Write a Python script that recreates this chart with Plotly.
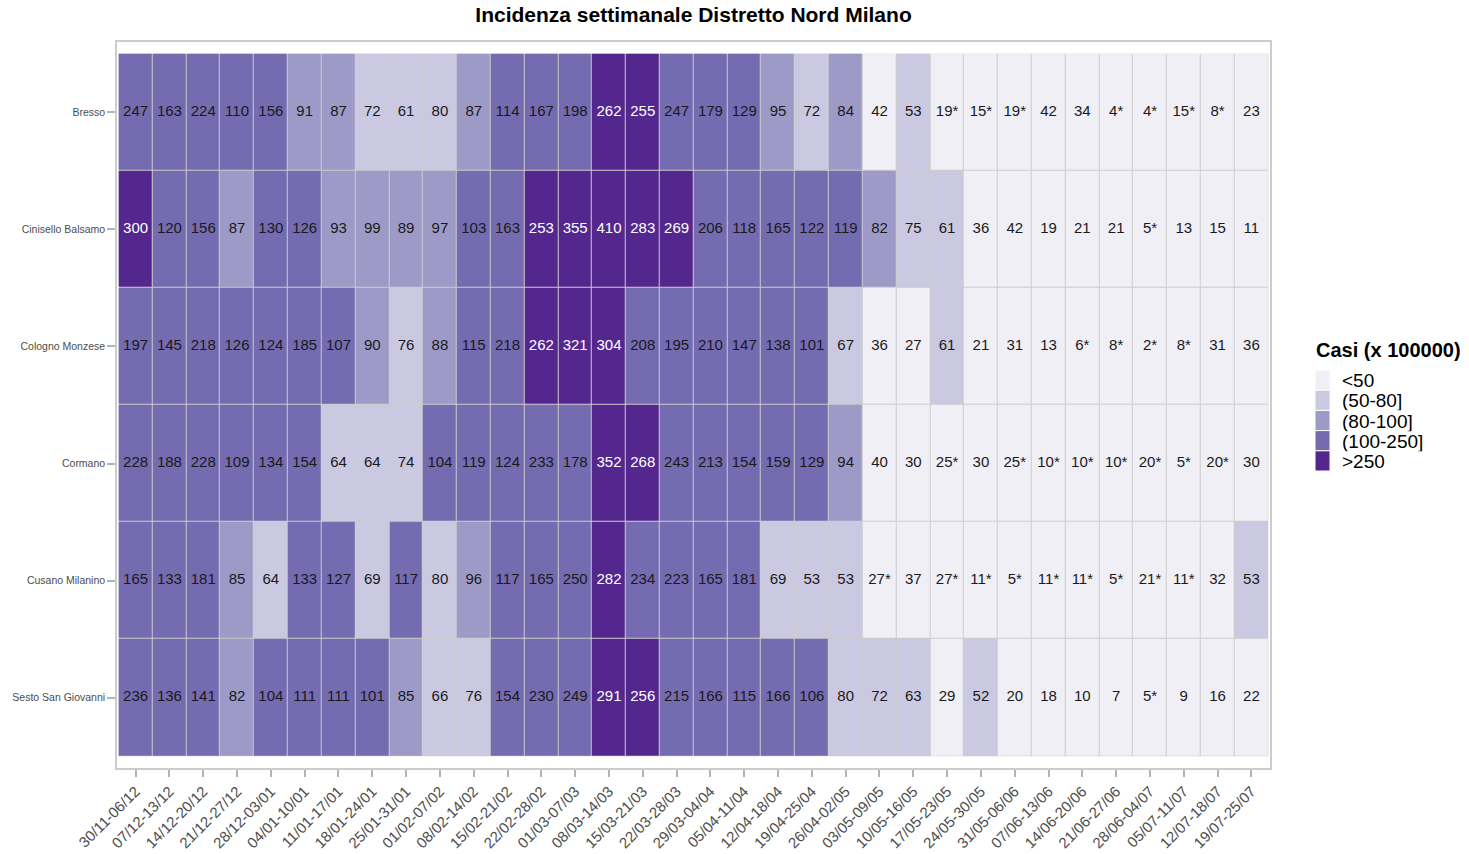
import plotly.graph_objects as go

title = "Incidenza settimanale Distretto Nord Milano"
legend_title = "Casi (x 100000)"

weeks = ["30/11-06/12", "07/12-13/12", "14/12-20/12", "21/12-27/12", "28/12-03/01",
         "04/01-10/01", "11/01-17/01", "18/01-24/01", "25/01-31/01", "01/02-07/02",
         "08/02-14/02", "15/02-21/02", "22/02-28/02", "01/03-07/03", "08/03-14/03",
         "15/03-21/03", "22/03-28/03", "29/03-04/04", "05/04-11/04", "12/04-18/04",
         "19/04-25/04", "26/04-02/05", "03/05-09/05", "10/05-16/05", "17/05-23/05",
         "24/05-30/05", "31/05-06/06", "07/06-13/06", "14/06-20/06", "21/06-27/06",
         "28/06-04/07", "05/07-11/07", "12/07-18/07", "19/07-25/07"]

towns = ["Bresso", "Cinisello Balsamo", "Cologno Monzese", "Cormano",
         "Cusano Milanino", "Sesto San Giovanni"]

bresso = ["247", "163", "224", "110", "156", "91", "87", "72", "61", "80", "87", "114",
          "167", "198", "262", "255", "247", "179", "129", "95", "72", "84", "42", "53",
          "19*", "15*", "19*", "42", "34", "4*", "4*", "15*", "8*", "23"]
cinisello = ["300", "120", "156", "87", "130", "126", "93", "99", "89", "97", "103", "163",
             "253", "355", "410", "283", "269", "206", "118", "165", "122", "119", "82", "75",
             "61", "36", "42", "19", "21", "21", "5*", "13", "15", "11"]
cologno = ["197", "145", "218", "126", "124", "185", "107", "90", "76", "88", "115", "218",
           "262", "321", "304", "208", "195", "210", "147", "138", "101", "67", "36", "27",
           "61", "21", "31", "13", "6*", "8*", "2*", "8*", "31", "36"]
cormano = ["228", "188", "228", "109", "134", "154", "64", "64", "74", "104", "119", "124",
           "233", "178", "352", "268", "243", "213", "154", "159", "129", "94", "40", "30",
           "25*", "30", "25*", "10*", "10*", "10*", "20*", "5*", "20*", "30"]
cusano = ["165", "133", "181", "85", "64", "133", "127", "69", "117", "80", "96", "117",
          "165", "250", "282", "234", "223", "165", "181", "69", "53", "53", "27*", "37",
          "27*", "11*", "5*", "11*", "11*", "5*", "21*", "11*", "32", "53"]
sesto = ["236", "136", "141", "82", "104", "111", "111", "101", "85", "66", "76", "154",
         "230", "249", "291", "256", "215", "166", "115", "166", "106", "80", "72", "63",
         "29", "52", "20", "18", "10", "7", "5*", "9", "16", "22"]

rows = [bresso, cinisello, cologno, cormano, cusano, sesto]

class_labels = ["<50", "(50-80]", "(80-100]", "(100-250]", ">250"]
class_colors = ["#f0eff6", "#cbc9e2", "#9e9ac8", "#756bb1", "#54278f"]
breaks = [50, 80, 100, 250]


def to_class(label):
    v = float(label.replace("*", ""))
    k = 0
    for b in breaks:
        if v > b:
            k += 1
    return k


z = [[to_class(s) for s in r] for r in rows]
ncol = len(weeks)
nrow = len(towns)
ncls = len(class_labels)

cs = []
for i, c in enumerate(class_colors):
    cs.append([i / ncls, c])
    cs.append([(i + 1) / ncls, c])

# page geometry (body margin removed via post_script)
W, H = 1469, 854
PL, PR, PT, PB = 117, 1270, 42, 768  # plot area in window pixels


def px(xw):
    return (xw - PL) / (PR - PL)


def py(yw):
    return (PB - yw) / (PB - PT)


fig = go.Figure()

fig.add_trace(go.Heatmap(
    z=z, x=list(range(ncol)), y=list(range(nrow)),
    colorscale=cs, zmin=-0.5, zmax=ncls - 0.5, showscale=False,
    xgap=1, ygap=1, hoverinfo="skip"))

tx, ty, tt, tc = [], [], [], []
for j, r in enumerate(rows):
    for i, s in enumerate(r):
        tx.append(i)
        ty.append(j)
        tt.append(s)
        tc.append("#ffffff" if z[j][i] == ncls - 1 else "#1a1a1a")

fig.add_trace(go.Scatter(
    x=tx, y=ty, text=tt, mode="text", textposition="middle center",
    textfont=dict(family="Liberation Sans", size=15, color=tc),
    hoverinfo="skip", showlegend=False))

fig.add_shape(type="rect", xref="x", yref="y", layer="below",
              x0=-0.5, x1=ncol - 0.5, y0=-0.5, y1=nrow - 0.5,
              fillcolor="#cccccc", line=dict(width=0))

# legend (ggplot style, stacked swatches)
fig.add_annotation(text="<b>" + legend_title + "</b>", xref="paper", yref="paper",
                   x=px(1314), y=py(350), xanchor="left", yanchor="middle",
                   showarrow=False, font=dict(size=20, color="#000000"))
sw_top, sw_h = 370, 20.2
for i, (lab, col) in enumerate(zip(class_labels, class_colors)):
    y0 = sw_top + i * sw_h
    fig.add_shape(type="rect", xref="paper", yref="paper",
                  x0=px(1315), x1=px(1330), y0=py(y0), y1=py(y0 + sw_h),
                  fillcolor=col, line=dict(color="white", width=1))
    fig.add_annotation(text=lab, xref="paper", yref="paper",
                       x=px(1340), y=py(y0 + sw_h / 2), xanchor="left",
                       yanchor="middle", showarrow=False, height=sw_h,
                       font=dict(size=19, color="#000000"))

fig.update_layout(
    width=W, height=H,
    margin=dict(l=PL, r=W - PR, t=PT, b=H - PB, autoexpand=False),
    paper_bgcolor="white", plot_bgcolor="white",
    font=dict(family="Liberation Sans", color="#1a1a1a"),
    title=dict(text="<b>" + title + "</b>", x=0.5, xref="paper",
               y=1 - 15 / H, yanchor="middle",
               font=dict(size=21, color="#000000")),
    showlegend=False,
)

fig.update_xaxes(
    tickvals=list(range(ncol)), ticktext=weeks, tickangle=-45,
    range=[-0.55, ncol - 0.45], showgrid=False, zeroline=False,
    showline=True, mirror=True, linecolor="#cccccc", linewidth=1.5,
    ticks="outside", ticklen=7, tickcolor="#b3b3b3", tickwidth=1.5,
    tickfont=dict(size=15, color="#4d4d4d"), automargin=False)

fig.update_yaxes(
    tickvals=list(range(nrow)), ticktext=towns,
    range=[nrow - 0.4, -0.6], showgrid=False, zeroline=False,
    showline=True, mirror=True, linecolor="#cccccc", linewidth=1.5,
    ticks="outside", ticklen=8, tickcolor="#b3b3b3", tickwidth=1.5,
    tickfont=dict(size=10.5, color="#4d4d4d"), automargin=False)

fig.write_html(
    "out.html",
    config={"displayModeBar": False},
    post_script="document.body.style.margin='0';"
                "document.body.style.overflow='hidden';")
